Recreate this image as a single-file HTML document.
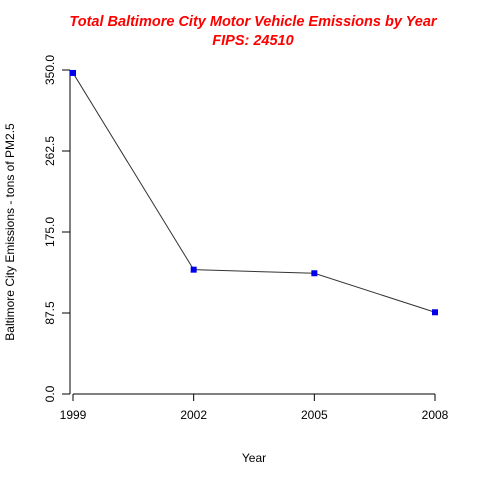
<!DOCTYPE html>
<html><head><meta charset="utf-8"><style>body{margin:0;background:#fff}svg{display:block}text{font-family:"Liberation Sans",Arial,sans-serif}</style></head>
<body>
<svg id="c" width="480" height="480" viewBox="0 0 480 480">
<text x="253" y="26" text-anchor="middle" font-size="14.5" font-weight="bold" font-style="italic" fill="#ff0000">Total Baltimore City Motor Vehicle Emissions by Year</text>
<text x="253" y="45" text-anchor="middle" font-size="14.5" font-weight="bold" font-style="italic" fill="#ff0000">FIPS: 24510</text>
<text x="254" y="462" text-anchor="middle" font-size="12">Year</text>
<text transform="translate(14,232) rotate(-90)" text-anchor="middle" font-size="12">Baltimore City Emissions - tons of PM2.5</text>
<g id="axes"></g><g id="marks"></g>
</svg>
<script>
const years=[1999,2002,2005,2008];
const emissions=[346.82,134.31,130.43,88.28];
const yTicks=[0,87.5,175,262.5,350];
const yTickLabels=["0.0","87.5","175.0","262.5","350.0"];
const NS="http://www.w3.org/2000/svg";
const xs=v=>73+(v-1999)/9*362;
const ys=v=>394-v/350*324;
function mk(t,a,p){const e=document.createElementNS(NS,t);for(const k in a)e.setAttribute(k,a[k]);p.appendChild(e);return e;}
const ax=document.getElementById('axes'),mg=document.getElementById('marks');
let l=mk('line',{x1:70,x2:70,y1:ys(350),y2:ys(0),stroke:'#000'},ax);


yTicks.forEach((v,i)=>{
 const t=mk('line',{x1:62,x2:70,y1:ys(v),y2:ys(v),stroke:'#000'},ax);
 
 
 const tx=mk('text',{transform:`translate(54,${ys(v)}) rotate(-90)`,'text-anchor':'middle','font-size':12},ax);
 tx.textContent=yTickLabels[i];
 
 
});
l=mk('line',{x1:xs(1999),x2:xs(2008),y1:394,y2:394,stroke:'#000'},ax);


years.forEach(v=>{
 const t=mk('line',{x1:xs(v),x2:xs(v),y1:394,y2:401,stroke:'#000'},ax);
 
 
 const tx=mk('text',{x:xs(v),y:419,'text-anchor':'middle','font-size':12},ax);
 tx.textContent=v;
 
 
});
const pl=mk('polyline',{points:years.map((y,i)=>xs(y)+','+ys(emissions[i])).join(' '),fill:'none',stroke:'#333','stroke-width':1},mg);


years.forEach((y,i)=>{
 const r=mk('rect',{x:xs(y)-3,y:ys(emissions[i])-3,width:6,height:6,fill:'#0000ee'},mg);
 
 
});
</script>
</body></html>
